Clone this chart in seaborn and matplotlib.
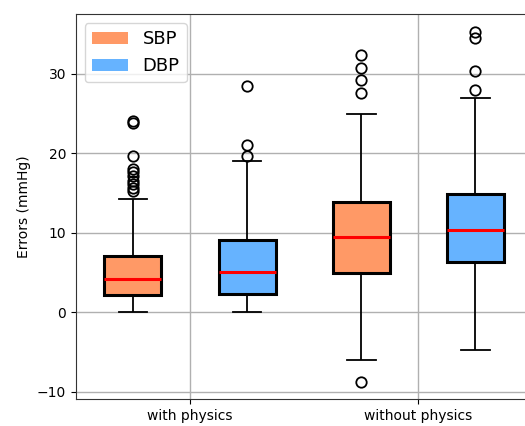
import numpy as np
import pandas as pd
import matplotlib
matplotlib.use("Agg")
import matplotlib.pyplot as plt
import matplotlib.patches as mpatches
import seaborn as sns

# ---- data ----
conditions = ["with physics", "without physics"]
types = ["SBP", "DBP"]
colors = ["#FF9966", "#66B3FF"]

# order: (with, SBP), (with, DBP), (without, SBP), (without, DBP)
whisker_lo = [0.0, 0.0, -5.95, -4.7]
q1 = [2.14, 2.31, 4.9, 6.37]
median = [4.23, 5.07, 9.5, 10.39]
q3 = [7.03, 9.13, 13.9, 14.9]
whisker_hi = [14.3, 18.97, 24.9, 27.0]
fliers_hi = [
    [24.0, 23.8, 19.6, 18.0, 17.6, 17.1, 16.5, 16.1, 15.6, 15.2],
    [28.4, 21.0, 19.6],
    [32.3, 30.7, 29.2, 27.6],
    [35.3, 34.5, 30.3, 27.9],
]
fliers_lo = [[], [], [-8.7], []]


def sample(i):
    """Build a sample whose quartiles/whiskers/fliers equal the read values."""
    upper = [whisker_hi[i]] + fliers_hi[i]
    lower = [whisker_lo[i]] + fliers_lo[i]
    m = max(len(upper), len(lower))
    lower = lower + [q1[i]] * (m - len(lower))
    upper = upper + [q3[i]] * (m - len(upper))
    mid = [q1[i]] + [median[i]] * (m - 1) + [median[i]] + [median[i]] * (m - 1) + [q3[i]]
    return sorted(lower + mid + upper)


rows = []
k = 0
for c in conditions:
    for t in types:
        for v in sample(k):
            rows.append({"cond": c, "type": t, "err": v})
        k += 1
df = pd.DataFrame(rows)

fig = plt.figure(figsize=(5.25, 4.26), dpi=100)
ax = fig.add_axes([75.8 / 525, 27 / 426, 456.7 / 525, 385 / 426])

sns.boxplot(
    data=df, x="cond", y="err", hue="type", order=conditions, hue_order=types,
    palette=colors, saturation=1, width=1.0, gap=0.5, ax=ax, legend=False,
    linecolor="black", linewidth=1.5, fliersize=7.5,
    boxprops=dict(linewidth=2.2, edgecolor="black"),
    medianprops=dict(color="red", linewidth=2.2),
    whiskerprops=dict(color="black", linewidth=1.3),
    capprops=dict(color="black", linewidth=1.3),
    flierprops=dict(marker="o", markerfacecolor="none", markeredgecolor="black",
                    markeredgewidth=1.3),
)

ax.set_xlim(-0.5, 1.5)
ax.grid(True, color="#b0b0b0", linewidth=1.0)
ax.set_axisbelow(True)
ax.set_xlabel("")
ax.set_ylabel("Errors (mmHg)", fontsize=10)
ax.tick_params(labelsize=10)
ax.set_yticks([-10, 0, 10, 20, 30])
for s in ax.spines.values():
    s.set_color("#333333")

handles = [mpatches.Patch(facecolor=colors[i], label=types[i]) for i in range(2)]
ax.legend(handles=handles, loc="upper left", fontsize=13)

fig.savefig("out.png", dpi=100)
